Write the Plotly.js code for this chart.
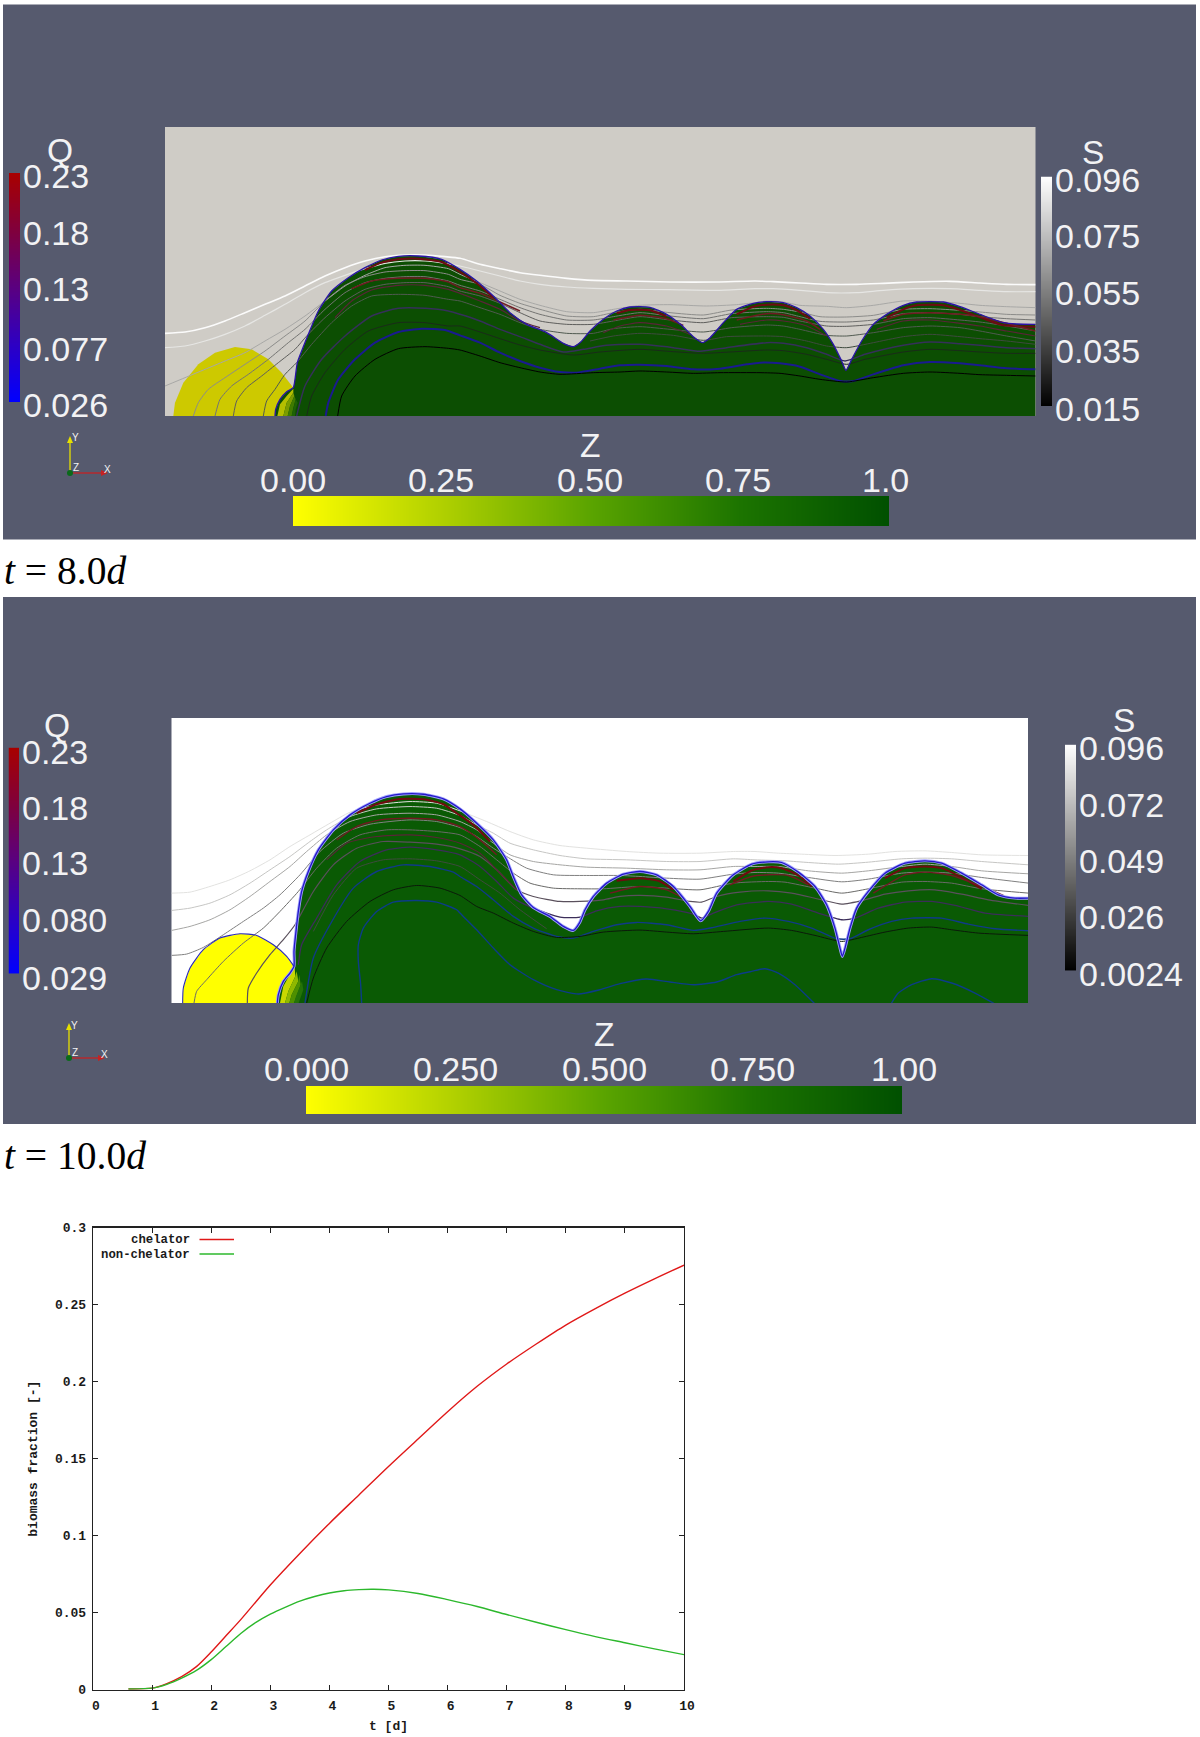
<!DOCTYPE html>
<html>
<head>
<meta charset="utf-8">
<script src="https://cdn.plot.ly/plotly-3.0.1.min.js"></script>
<style>html,body{margin:0;padding:0;background:#fff}#chart{width:1200px;height:1737px}</style>
</head>
<body>
<div id="chart"></div>
<script>
/* ---------- bottom chart: biomass fraction ---------- */
const tChelator=[0.6,1,1.25,1.5,1.75,2,2.25,2.5,3,3.5,4,4.5,5,5.5,6,6.5,7,7.5,8,8.5,9,9.5,10];
const chelator=[0.0005,0.001,0.004,0.0085,0.015,0.0245,0.035,0.0455,0.068,0.0885,0.108,0.1265,0.145,0.1628,0.1805,0.197,0.2115,0.2245,0.2368,0.2475,0.2575,0.2668,0.2757];
const tNonChelator=[0.6,1,1.25,1.5,1.75,2,2.25,2.5,2.75,3,3.25,3.5,3.75,4,4.25,4.5,4.75,5,5.5,6,6.5,7,7.5,8,8.5,9,9.5,10];
const nonChelator=[0.0005,0.001,0.0035,0.0075,0.0125,0.0195,0.028,0.0365,0.0435,0.049,0.0535,0.0575,0.0605,0.0628,0.0643,0.065,0.0652,0.0648,0.0625,0.0585,0.054,0.0488,0.0438,0.039,0.0345,0.0305,0.0265,0.0228];
const xTicks=[0,1,2,3,4,5,6,7,8,9,10];
const yTicks=[0,0.05,0.1,0.15,0.2,0.25,0.3];
const yTickText=['0','0.05','0.1','0.15','0.2','0.25','0.3'];

/* ---------- colour bar scales ---------- */
const q8Ticks=[0.026,0.077,0.13,0.18,0.23];
const q8Labels=['0.026','0.077','0.13','0.18','0.23'];
const s8Ticks=[0.015,0.035,0.055,0.075,0.096];
const s8Labels=['0.015','0.035','0.055','0.075','0.096'];
const z8Ticks=[0,0.25,0.5,0.75,1];
const z8Labels=['0.00','0.25','0.50','0.75','1.0'];
const q10Ticks=[0.029,0.08,0.13,0.18,0.23];
const q10Labels=['0.029','0.080','0.13','0.18','0.23'];
const s10Ticks=[0.0024,0.026,0.049,0.072,0.096];
const s10Labels=['0.0024','0.026','0.049','0.072','0.096'];
const z10Ticks=[0,0.25,0.5,0.75,1];
const z10Labels=['0.000','0.250','0.500','0.750','1.00'];

/* ---------- t = 8.0 d field (units: third of a picture pixel) ---------- */
const p8FilmX=[330,332,345,365,385,390,397,412,430,460,500,550,600,650,700,760,830,885,935,985,1035,1085,1145,1195,1225,1247,1275,1315,1355,1395,1455,1505,1550,1585,1613,1635,1675,1715,1765,1805,1855,1895,1935,1975,2005,2030,2043,2060,2090,2125,2165,2215,2255,2335,2385,2445,2515,2555,2612];
const p8FilmY=[510,490,460,437,425,400,350,310,265,195,135,95,65,42,31,30,40,70,105,150,200,235,260,292,302,288,255,220,195,183,184,205,238,272,290,275,230,190,172,167,170,185,210,250,295,345,373,340,285,235,205,178,168,168,182,205,230,234,235];
const p8GrainX=[25,30,55,100,150,210,260,310,350,385,400];
const p8GrainY=[510,470,410,355,320,303,310,340,380,425,510];
const p8Foot1X=[337,345,365,385,385,365,355], p8Foot1Y=[510,475,450,428,440,470,510];
const p8Foot2X=[355,365,385,388,375,368], p8Foot2Y=[510,470,440,450,480,510];
const p8Foot3X=[368,375,388,392,385,380], p8Foot3Y=[510,480,450,460,485,510];
const p8Foot4X=[380,385,392,398,392,390], p8Foot4Y=[510,485,460,470,490,510];

const p8S1X=[0,60,120,180,240,300,360,420,480,540,600,660,720,780,840,885,945,1005,1065,1125,1205,1285,1385,1515,1655,1770,1825,1905,1985,2075,2155,2245,2355,2445,2525,2612];
const p8S1Y=[262,258,245,225,200,175,150,120,90,65,45,32,27,27,32,37,55,68,80,88,97,103,105,108,108,105,107,111,115,115,112,108,106,111,115,116];
const p8S2X=[0,60,120,180,240,300,360,420,480,540,600,660,720,780,840,885,945,1005,1065,1125,1205,1285,1385,1515,1655,1770,1825,1905,1985,2075,2155,2245,2355,2445,2525,2612];
const p8S2Y=[305,300,285,265,240,208,175,140,110,88,68,52,45,45,52,60,75,90,105,115,123,127,130,131,133,128,128,133,140,140,133,128,128,133,137,137];
const p8S3X=[0,60,120,180,240,300,360,420,480,540,600,660,720,780,850,885,945,1005,1065,1125,1205,1285,1345,1425,1515,1625,1715,1770,1805,1855,1905,1985,2045,2125,2215,2295,2385,2445,2525,2612];
const p8S3Y=[420,395,370,345,320,285,250,210,165,120,88,65,58,58,68,85,110,135,160,178,197,200,190,178,176,180,176,170,165,168,178,181,185,178,165,165,172,178,182,185];
const p8S4X=[85,100,130,180,240,300,360,420,480,540,600,660,720,780,850,885,945,1005,1065,1125,1205,1285,1345,1425,1515,1615,1700,1805,1855,1905,1965,2045,2125,2215,2295,2385,2445,2525,2612];
const p8S4Y=[510,470,430,395,355,315,270,225,165,118,92,78,74,74,85,100,115,148,172,190,210,212,200,190,200,207,192,187,190,198,212,213,208,190,188,193,198,205,207];
const p8S5X=[150,165,200,250,310,370,420,480,540,600,660,720,780,850,885,945,1005,1065,1125,1205,1285,1345,1425,1515,1615,1700,1805,1855,1905,1965,2045,2125,2215,2295,2385,2445,2525,2612];
const p8S5Y=[510,460,420,385,340,290,250,190,140,110,97,92,92,105,118,135,160,185,205,222,222,212,200,210,218,203,197,200,212,226,228,222,203,200,205,212,218,222];
const p8S6X=[205,215,245,290,340,390,425,480,540,600,660,720,780,850,885,945,1005,1065,1125,1205,1285,1345,1425,1515,1615,1700,1805,1855,1905,1985,2045,2125,2215,2295,2385,2445,2525,2612];
const p8S6Y=[510,465,425,390,350,310,270,215,165,130,115,110,110,122,135,150,172,200,225,235,235,225,212,222,230,215,212,214,225,240,241,235,218,215,222,228,240,255];
const p8S7X=[295,305,330,360,395,440,500,560,620,700,780,850,885,945,1005,1065,1125,1205,1285,1345,1425,1515,1615,1700,1805,1855,1905,1985,2045,2125,2215,2295,2385,2445,2525,2612];
const p8S7Y=[510,465,430,385,350,295,230,180,150,145,148,160,165,185,205,230,250,262,262,248,242,250,258,245,237,240,250,268,270,260,245,240,245,255,270,285];
const p8S7bX=[1275,1345,1425,1525,1615,1685,1805,1855,1925,1985,2045,2125,2215,2295,2385,2445,2525,2612];
const p8S7bY=[285,270,262,268,283,272,270,272,285,300,305,290,272,265,272,278,285,295];
const p8S8X=[395,420,470,540,620,700,780,850,885,945,1005,1065,1125,1195,1255,1325,1425,1525,1605,1685,1805,1855,1925,1985,2040,2100,2215,2295,2385,2445,2525,2612];
const p8S8Y=[510,420,340,270,210,187,187,195,205,225,250,272,295,318,310,298,295,305,316,305,290,292,305,325,345,325,298,288,293,298,305,308];
const p8S9X=[425,440,480,540,610,700,780,850,885,945,1005,1065,1125,1225,1305,1425,1525,1615,1695,1805,1855,1925,1985,2045,2100,2215,2295,2385,2445,2525,2612];
const p8S9Y=[510,450,380,310,255,230,230,240,240,258,278,297,312,327,318,310,317,322,318,312,314,325,340,355,340,318,310,314,318,322,322];
const p8BlueX=[482,490,520,570,630,700,770,840,885,945,1005,1065,1125,1185,1235,1305,1365,1425,1505,1585,1665,1745,1785,1845,1905,1965,2025,2065,2125,2215,2295,2385,2445,2525,2612];
const p8BlueY=[510,470,400,340,290,258,248,252,268,290,320,345,365,378,380,368,358,356,360,370,368,355,350,352,362,385,405,405,385,358,348,352,358,367,370];
const p8BlackX=[518,530,570,630,700,780,850,885,945,1005,1065,1125,1185,1285,1365,1425,1505,1585,1665,1785,1845,1905,1965,2045,2125,2215,2295,2385,2445,2525,2612];
const p8BlackY=[510,450,390,340,308,302,307,312,330,350,365,378,385,380,378,375,378,382,380,380,382,390,400,408,395,382,378,382,386,388,390];
const p8QaX=[600,650,700,760,830,885,935,985,null,1355,1395,1455,1505,null,1715,1765,1805,1855,1895,1935,null,2165,2215,2255,2335,2385,2445,2515,2612];
const p8QaY=[72,50,40,38,48,78,112,155,null,202,192,193,212,null,205,182,176,178,193,218,null,215,190,178,178,192,214,238,242];
const p8QbX=[560,620,700,780,850,885,945,1005,1065,null,1345,1425,1505,1555,null,1715,1805,1855,1925,1965,null,2155,2215,2295,2385,2445,2525,2612];
const p8QbY=[128,105,97,97,108,125,142,168,195,null,222,208,218,238,null,222,203,206,225,250,null,225,205,200,205,212,232,255];
const p8QcX=[510,560,620,700,780,850,885,945,1005,1065,1125,null,1315,1365,1425,1505,1575,null,1725,1805,1855,1925,1985,null,2135,2215,2295,2385,2445,2525,2612];
const p8QcY=[215,165,132,118,118,130,142,165,190,225,245,null,260,240,230,240,265,null,235,222,225,240,270,null,250,225,222,232,240,255,270];

/* ---------- t = 10.0 d field ---------- */
const p10FilmX=[322,325,340,360,372,372,378,385,395,415,445,490,540,600,650,700,760,820,870,920,970,1010,1030,1055,1090,1140,1180,1210,1228,1245,1270,1310,1360,1410,1460,1510,1560,1592,1615,1640,1690,1745,1795,1835,1885,1935,1970,1995,2010,2017,2025,2040,2060,2095,2145,2205,2265,2315,2375,2435,2485,2535,2576];
const p10FilmY=[655,630,590,565,545,500,440,380,320,260,195,135,90,55,35,27,28,42,72,115,165,225,275,330,368,395,425,437,415,375,335,295,268,260,270,305,365,408,380,325,270,238,231,233,262,305,360,430,490,515,490,430,370,320,265,235,228,235,265,300,330,340,340];
const p10GrainX=[38,40,60,100,150,210,260,310,350,372,330];
const p10GrainY=[655,610,550,495,460,447,452,480,515,545,655];
const p10Foot1X=[330,340,365,374,376,355,345], p10Foot1Y=[655,605,560,548,575,620,655];
const p10Foot2X=[345,355,376,380,385,365,358], p10Foot2Y=[655,620,575,560,590,630,655];
const p10Foot3X=[358,365,385,388,392,378,372], p10Foot3Y=[655,630,590,570,600,635,655];
const p10Foot4X=[372,378,392,396,400,390,386], p10Foot4Y=[655,635,600,590,615,640,655];

const p10S1X=[5,60,120,180,240,300,360,420,480,540,620,720,800,870,950,1020,1090,1170,1250,1370,1470,1590,1690,1755,1825,1895,1995,2095,2175,2265,2345,2435,2576];
const p10S1Y=[325,322,305,285,258,225,185,150,115,82,60,50,55,78,110,140,165,182,190,200,205,205,200,200,205,208,212,208,200,198,203,210,212];
const p10S2X=[5,60,120,180,240,300,360,420,470,540,620,720,800,870,920,970,1020,1090,1170,1250,1370,1490,1590,1690,1755,1845,1915,2005,2095,2195,2265,2345,2435,2576];
const p10S2Y=[377,370,355,330,295,255,215,170,135,95,72,65,70,92,120,145,175,195,212,222,225,230,230,222,225,228,233,238,232,222,220,222,230,240];
const p10S3X=[5,60,120,180,240,300,360,410,470,540,620,720,800,870,920,970,1020,1090,1170,1250,1370,1490,1590,1690,1755,1825,1915,2015,2095,2195,2265,2345,2435,2576];
const p10S3Y=[437,425,405,375,335,290,245,200,150,110,90,85,90,110,135,175,210,230,240,247,250,255,255,245,245,245,258,265,258,245,238,245,258,267];
const p10S4X=[5,50,100,160,220,280,330,390,450,520,600,720,800,870,920,970,1010,1070,1150,1250,1350,1410,1490,1590,1690,1755,1825,1915,2015,2095,2195,2265,2345,2435,2576];
const p10S4Y=[512,508,488,450,410,370,330,270,200,145,118,105,110,128,155,190,215,250,270,272,272,275,280,283,268,263,265,278,291,283,265,262,265,278,295];
const p10S5X=[72,80,110,160,220,280,330,385,440,500,570,650,720,800,870,930,980,1030,1080,1150,1230,1300,1410,1490,1590,1690,1795,1845,1935,2015,2095,2195,2265,2345,2435,2576];
const p10S5Y=[655,620,585,530,475,430,380,320,250,190,150,135,135,140,150,185,225,265,295,310,312,312,305,310,315,295,290,292,310,325,312,292,290,295,312,325];
const p10S6X=[232,235,260,300,340,375,430,490,560,640,720,800,870,930,980,1040,1090,1170,1230,1300,1350,1410,1490,1560,1595,1640,1710,1795,1865,1955,2015,2085,2145,2215,2295,2375,2455,2576];
const p10S6Y=[655,610,565,510,465,420,320,240,190,170,172,178,192,215,255,315,335,350,350,345,335,332,337,350,352,335,322,318,325,345,358,345,328,318,315,328,345,362];
const p10S7X=[385,395,440,500,570,650,720,800,870,930,980,1030,1090,1170,1230,1280,1350,1410,1490,1570,1595,1630,1700,1795,1865,1945,2015,2055,2125,2205,2285,2355,2445,2576];
const p10S7Y=[540,480,400,300,230,195,187,195,210,245,290,340,370,397,397,378,365,365,372,388,400,385,360,350,358,385,405,400,370,352,350,362,385,395];
const p10S8X=[430,490,560,640,720,800,870,930,990,1050,1130];
const p10S8Y=[440,330,250,225,222,228,245,285,325,375,432];
const p10BlueX=[405,430,480,550,620,700,780,850,870,920,970,1030,1090,1160,1210,1270,1340,1400,1490,1570,1630,1710,1785,1855,1925,2000,2040,2095,2165,2225,2315,2395,2475,2576];
const p10BlueY=[655,520,420,310,260,240,245,262,275,305,345,395,430,455,460,440,420,413,420,437,428,410,400,410,430,462,462,435,410,400,400,418,432,438];
const p10BlackX=[410,430,470,530,600,670,740,810,870,920,970,1030,1090,1160,1230,1300,1410,1490,1570,1660,1795,1865,1935,2015,2075,2145,2215,2285,2345,2425,2576];
const p10BlackY=[655,580,490,410,350,315,302,310,332,365,385,415,440,458,455,442,436,442,447,440,430,437,452,470,458,442,430,427,435,445,452];
const p10InnerX=[575,572,565,565,580,620,670,740,800,860,870,920,970,1020,1090,1160,1225,1290,1350,1430,1500,1570,1640,1700,1745,1785,1825,1875,1935];
const p10InnerY=[655,600,530,480,430,380,352,347,352,375,385,435,490,540,585,615,628,615,597,583,592,600,592,570,560,552,565,600,658];
const p10Inner2X=[2163,2185,2225,2285,2345,2415,2475];
const p10Inner2Y=[658,625,600,582,595,625,658];
const p10QaX=[560,620,690,760,820,860,910,960,null,1340,1410,1470,1510,null,1690,1745,1795,1835,1885,1925,null,2145,2205,2265,2315,2375,2435];
const p10QaY=[85,58,42,43,58,85,120,170,null,288,280,290,315,null,290,257,247,250,272,305,null,280,250,245,250,278,312];
const p10QbX=[500,560,630,720,800,870,930,980,null,1320,1410,1490,1540,null,1680,1745,1795,1855,1915,null,2110,2205,2265,2345,2435,2500];
const p10QbY=[165,125,105,100,105,125,165,210,null,325,305,315,340,null,300,275,270,272,300,null,325,270,262,272,305,332];
const p10QcX=[470,530,620,720,800,870,930,985,1040];
const p10QcY=[225,175,155,150,158,175,205,260,315];

/* ---------- helpers ---------- */
const W=1200,H=1737;
const px=v=>v/W, py=v=>1-v/H;
const dx=(a,b)=>[a/W,b/W], dy=(a,b)=>[1-b/H,1-a/H];
const traces=[], shapes=[], annotations=[], layout={};

function hiddenAxis(extra){return Object.assign({visible:false,fixedrange:true,showgrid:false,zeroline:false},extra);}
function addAxes(n,xd,yd,xr,yr){
  layout['xaxis'+n]=hiddenAxis({domain:xd,range:xr,anchor:'y'+n});
  layout['yaxis'+n]=hiddenAxis({domain:yd,range:yr,anchor:'x'+n});
}
function poly(n,x,y,color){
  traces.push({type:'scatter',mode:'lines',x:x,y:y,xaxis:'x'+n,yaxis:'y'+n,fill:'toself',fillcolor:color,line:{width:0,color:color},hoverinfo:'skip',showlegend:false});
}
function stroke(n,x,y,color,width){
  traces.push({type:'scatter',mode:'lines',x:x,y:y,xaxis:'x'+n,yaxis:'y'+n,line:{color:color,width:width,shape:'spline',smoothing:0.6},connectgaps:false,hoverinfo:'skip',showlegend:false});
}
function label(text,x,y,size,anchor,color,extra){
  annotations.push(Object.assign({text:text,x:px(x),y:py(y),xref:'paper',yref:'paper',showarrow:false,xanchor:anchor||'left',yanchor:'middle',
    font:{family:'"Liberation Sans",Arial,sans-serif',size:size,color:color||'#f2f2f4'}},extra||{}));
}
function rect(x0,y0,x1,y1,color,layer){
  shapes.push({type:'rect',xref:'paper',yref:'paper',x0:px(x0),x1:px(x1),y0:py(y0),y1:py(y1),fillcolor:color,line:{width:0},layer:layer||'below'});
}
function seg(x0,y0,x1,y1,color,w){
  shapes.push({type:'line',xref:'paper',yref:'paper',x0:px(x0),x1:px(x1),y0:py(y0),y1:py(y1),line:{color:color,width:w},layer:'above'});
}
function triad(ox,oy,top,right){
  seg(ox,oy,ox,top+6,'#e6e000',1.3);
  seg(ox,oy,right-6,oy,'#c42222',1.3);
  const tri=(a,b,c,col)=>shapes.push({type:'path',xref:'paper',yref:'paper',path:'M'+px(a[0])+','+py(a[1])+' L'+px(b[0])+','+py(b[1])+' L'+px(c[0])+','+py(c[1])+' Z',fillcolor:col,line:{width:0},layer:'above'});
  tri([ox,top],[ox-3,top+7],[ox+3,top+7],'#e6e000');
  tri([right,oy],[right-7,oy-3],[right-7,oy+3],'#c42222');
  shapes.push({type:'circle',xref:'paper',yref:'paper',x0:px(ox-3),x1:px(ox+3),y0:py(oy+3),y1:py(oy-3),fillcolor:'#0a6a1a',line:{width:0},layer:'above'});
  label('Y',ox+5,top+2,10,'center');
  label('X',right-1,oy-4,10,'center');
  label('Z',ox+6,oy-6,10,'center');
}
function colorBar(n,ticks,scale,orient,x0,y0,x1,y1){
  addAxes(n,dx(x0,x1),dy(y0,y1),orient==='h'?[ticks[0],ticks[ticks.length-1]]:[0,1],orient==='h'?[0,1]:[ticks[0],ticks[ticks.length-1]]);
  const t={type:'heatmap',xaxis:'x'+n,yaxis:'y'+n,colorscale:scale,showscale:false,zsmooth:'best',hoverinfo:'skip',zmin:ticks[0],zmax:ticks[ticks.length-1]};
  if(orient==='h'){t.x=ticks;t.y=[0,1];t.z=[ticks,ticks];}
  else{t.x=[0,1];t.y=ticks;t.z=ticks.map(v=>[v,v]);}
  traces.push(t);
}
const qScale=[[0,'#0000ff'],[0.25,'#2d00c4'],[0.5,'#5a0080'],[0.75,'#80003c'],[1,'#a80000']];
const sScale=[[0,'#000000'],[1,'#ffffff']];
const zScale=[[0,'#ffff00'],[0.25,'#b0d000'],[0.5,'#5aa400'],[0.75,'#1c7400'],[1,'#005000']];

/* ---------- panel backgrounds ---------- */
const slate='#565a6e';
rect(3,4.5,1196,539.5,slate);
rect(3,597,1196,1124,slate);
rect(165,127,1035.5,416,'#cfccc6');
rect(171.5,718,1028,1003,'#ffffff');

/* ---------- panel t = 8.0 d ---------- */
addAxes(1,dx(165,1035.5),dy(127,416),[0,2611.5],[510,-357]);
poly(1,p8GrainX,p8GrainY,'#cdc900');
poly(1,p8FilmX.concat([2612,330]),p8FilmY.concat([510,510]),'#0c4e02');
poly(1,p8Foot1X,p8Foot1Y,'#b5bf00');
poly(1,p8Foot2X,p8Foot2Y,'#7c9c00');
poly(1,p8Foot3X,p8Foot3Y,'#3f7a00');
poly(1,p8Foot4X,p8Foot4Y,'#1e6205');
stroke(1,p8S1X,p8S1Y,'#fbfbfb',1.6);
stroke(1,p8S2X,p8S2Y,'#e6e6e4',1.2);
stroke(1,p8S3X,p8S3Y,'#a8a8a6',1);
stroke(1,p8S4X,p8S4Y,'#8c8c8a',1);
stroke(1,p8S5X,p8S5Y,'#747472',1);
stroke(1,p8S6X,p8S6Y,'#5e5e5c',1);
stroke(1,p8S7X,p8S7Y,'#505a50',1);
stroke(1,p8S7bX,p8S7bY,'#3e4a3e',1);
stroke(1,p8S8X,p8S8Y,'#35305a',1.5);
stroke(1,p8S9X,p8S9Y,'#1a2a1a',1);
stroke(1,p8QaX,p8QaY,'#6e0a12',2);
stroke(1,p8QbX,p8QbY,'#701a22',1.5);
stroke(1,p8QcX,p8QcY,'#5a2438',1.2);
stroke(1,p8BlueX,p8BlueY,'#1a1a90',2);
stroke(1,p8BlackX,p8BlackY,'#000000',1);
stroke(1,p8FilmX,p8FilmY,'#2a14a8',1.3);

colorBar(2,q8Ticks,qScale,'v',9,173,20,402);
colorBar(3,s8Ticks,sScale,'v',1041,176.5,1052,406);
colorBar(4,z8Ticks,zScale,'h',293,496,889,526);
const q8Y=[405,349,289,233,176], s8Y=[408.5,351,293,236.5,179.5], z8X=[293,441,590,738.5,885];
q8Labels.forEach((t,i)=>label(t,20.5,q8Y[i],34));
s8Labels.forEach((t,i)=>label(t,1052.5,s8Y[i],34));
z8Labels.forEach((t,i)=>label(t,z8X[i],479.5,34,'center'));
label('Q',60,150,33.5,'center');
label('S',1093,153,33.5,'center');
label('Z',590,446,33.5,'center');
triad(70,473,436,108);
label('<i>t</i> = 8.0<i>d</i>',2,571,39.5,'left','#000',{font:{family:'"Liberation Serif",serif',size:39.5,color:'#000'}});

/* ---------- panel t = 10.0 d ---------- */
addAxes(5,dx(171.5,1028),dy(718,1003),[4.5,2574],[655,-201]);
poly(5,p10GrainX,p10GrainY,'#ffff00');
poly(5,p10FilmX.concat([2576,322]),p10FilmY.concat([655,655]),'#0a5a04');
poly(5,p10Foot1X,p10Foot1Y,'#c9d800');
poly(5,p10Foot2X,p10Foot2Y,'#8fb800');
poly(5,p10Foot3X,p10Foot3Y,'#4f9000');
poly(5,p10Foot4X,p10Foot4Y,'#247208');
stroke(5,p10S1X,p10S1Y,'#e2e2e0',1);
stroke(5,p10S2X,p10S2Y,'#c6c6c4',1);
stroke(5,p10S3X,p10S3Y,'#a6a6a4',1);
stroke(5,p10S4X,p10S4Y,'#808080',1);
stroke(5,p10S5X,p10S5Y,'#6a6a68',1);
stroke(5,p10S6X,p10S6Y,'#5a505c',1.2);
stroke(5,p10S7X,p10S7Y,'#3c2e5a',1.3);
stroke(5,p10S8X,p10S8Y,'#3e4a3e',1);
stroke(5,p10QaX,p10QaY,'#720a10',2);
stroke(5,p10QbX,p10QbY,'#701a22',1.4);
stroke(5,p10QcX,p10QcY,'#5a2438',1.2);
stroke(5,p10BlueX,p10BlueY,'#103a88',1.4);
stroke(5,p10BlackX,p10BlackY,'#0a1a0a',1);
stroke(5,p10InnerX,p10InnerY,'#0c3c88',1.4);
stroke(5,p10Inner2X,p10Inner2Y,'#0c3c88',1.4);
stroke(5,p10FilmX,p10FilmY,'#a0a0ff',3);
stroke(5,p10FilmX,p10FilmY,'#2418c8',1.3);
stroke(5,p10GrainX.slice(0,10),p10GrainY.slice(0,10),'#2a2ab8',1.1);

colorBar(6,q10Ticks,qScale,'v',8.5,747.6,19,973.7);
colorBar(7,s10Ticks,sScale,'v',1065,744.6,1076,970.7);
colorBar(8,z10Ticks,zScale,'h',306,1086,902,1114.5);
const q10Y=[977.6,920,862.5,808,751.5], s10Y=[974,917,860.6,804.6,748], z10X=[306,455,604,753,904];
q10Labels.forEach((t,i)=>label(t,19.5,q10Y[i],34));
s10Labels.forEach((t,i)=>label(t,1076.5,s10Y[i],34));
z10Labels.forEach((t,i)=>label(t,z10X[i],1068.7,34,'center'));
label('Q',57,725,33.5,'center');
label('S',1124,721,33.5,'center');
label('Z',604,1034,33.5,'center');
triad(69,1058,1023,105);
label('<i>t</i> = 10.0<i>d</i>',2,1156,39.5,'left','#000',{font:{family:'"Liberation Serif",serif',size:39.5,color:'#000'}});

/* ---------- bottom chart ---------- */
const mono={family:'"Liberation Mono",monospace',size:13,color:'#1a1a1a',weight:'bold'};
traces.push({type:'scatter',mode:'lines',name:'chelator',x:tChelator,y:chelator,xaxis:'x9',yaxis:'y9',line:{color:'#e01818',width:1.4,shape:'spline',smoothing:0.8},hoverinfo:'skip',showlegend:false});
traces.push({type:'scatter',mode:'lines',name:'non-chelator',x:tNonChelator,y:nonChelator,xaxis:'x9',yaxis:'y9',line:{color:'#2cb82c',width:1.4,shape:'spline',smoothing:0.8},hoverinfo:'skip',showlegend:false});
const axisLine={showline:true,linecolor:'#222',linewidth:1.3,mirror:'allticks',ticks:'inside',ticklen:5,tickcolor:'#222',tickwidth:1,showgrid:false,zeroline:false,fixedrange:true,tickfont:mono};
layout.xaxis9=Object.assign({},axisLine,{domain:dx(93,684),range:[0,10],anchor:'y9',tickmode:'array',tickvals:xTicks,ticktext:xTicks.map(String),ticklabelstandoff:3,ticklabelshift:3,
  title:{text:'t [d]',font:mono,standoff:8}});
layout.yaxis9=Object.assign({},axisLine,{domain:dy(1227.7,1689.7),range:[0,0.3],anchor:'x9',tickmode:'array',tickvals:yTicks,ticktext:yTickText,ticklabelstandoff:3,
  title:{text:'biomass fraction [-]',font:mono,standoff:14}});
const legendFont={family:'"Liberation Mono",monospace',size:12.3,color:'#1a1a1a',weight:'bold'};
label('chelator',191.5,1240,12.3,'right','#1a1a1a',{font:legendFont});
label('non-chelator',191.5,1254.5,12.3,'right','#1a1a1a',{font:legendFont});
seg(199.5,1239.5,234,1239.5,'#e01818',1.4);
seg(199.5,1254,234,1254,'#2cb82c',1.4);

Object.assign(layout,{width:W,height:H,margin:{l:0,r:0,t:0,b:0,pad:0},paper_bgcolor:'#ffffff',plot_bgcolor:'rgba(0,0,0,0)',showlegend:false,shapes:shapes,annotations:annotations,hovermode:false});
Plotly.newPlot('chart',traces,layout,{staticPlot:true,displayModeBar:false});
</script>
</body>
</html>
